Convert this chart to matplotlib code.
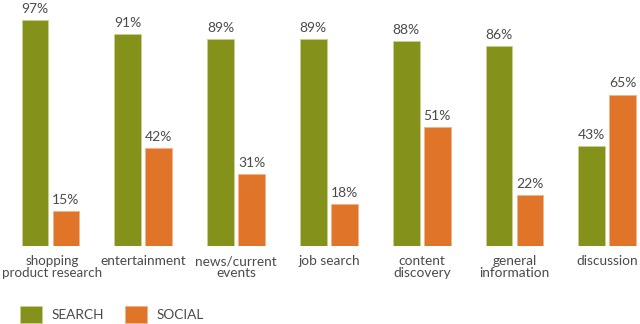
import matplotlib
matplotlib.use('Agg')
import matplotlib.pyplot as plt
import numpy as np

categories = ['shopping\nproduct research', 'entertainment', 'news/current\nevents',
              'job search', 'content\ndiscovery', 'general\ninformation', 'discussion']
search = [97, 91, 89, 89, 88, 86, 43]
social = [15, 42, 31, 18, 51, 22, 65]

green = '#84921b'
orange = '#e07428'
textc = '#4a4a4a'

plt.rcParams['font.family'] = ['Lato', 'DejaVu Sans']

fig = plt.figure(figsize=(6.4, 3.24), dpi=100)
ax = fig.add_axes([0, 78/324, 1, 246/324])

x = np.arange(len(categories))
w = 0.29
off = 0.334
b1 = ax.bar(x, search, w, color=green, edgecolor='#c9d08f', linewidth=0.6, label='SEARCH')
b2 = ax.bar(x + off, social, w, color=orange, edgecolor='#f0b48a', linewidth=0.6, label='SOCIAL')

for bars, vals in [(b1, search), (b2, social)]:
    for r, v in zip(bars, vals):
        ax.text(r.get_x() + r.get_width() / 2, v + 2.2, str(v) + '%', ha='center', va='bottom',
                fontsize=10, color=textc)

xmin, xmax = -35/92.8, (640-35)/92.8
for i, c in enumerate(categories):
    if i == 0:
        # long first label: pin it to the left edge so it stays inside
        ax.text(xmin + 0.025, -4, c, ha='left', va='top', multialignment='center',
                fontsize=9.6, color=textc, linespacing=1.0)
    else:
        ax.text(i + off / 2, -4, c, ha='center', va='top', fontsize=9.8, color=textc,
                linespacing=1.0)

ax.set_xlim(xmin, xmax)
ax.set_ylim(0, 105.6)
ax.axis('off')

fig.legend(handles=[b1, b2], loc='lower left', bbox_to_anchor=(0.012, -0.035), ncol=2,
           frameon=False, fontsize=9.8, handlelength=1.6, handleheight=1.5,
           handletextpad=0.75, columnspacing=1.5, labelcolor=textc)

fig.savefig('out.png', dpi=100)
